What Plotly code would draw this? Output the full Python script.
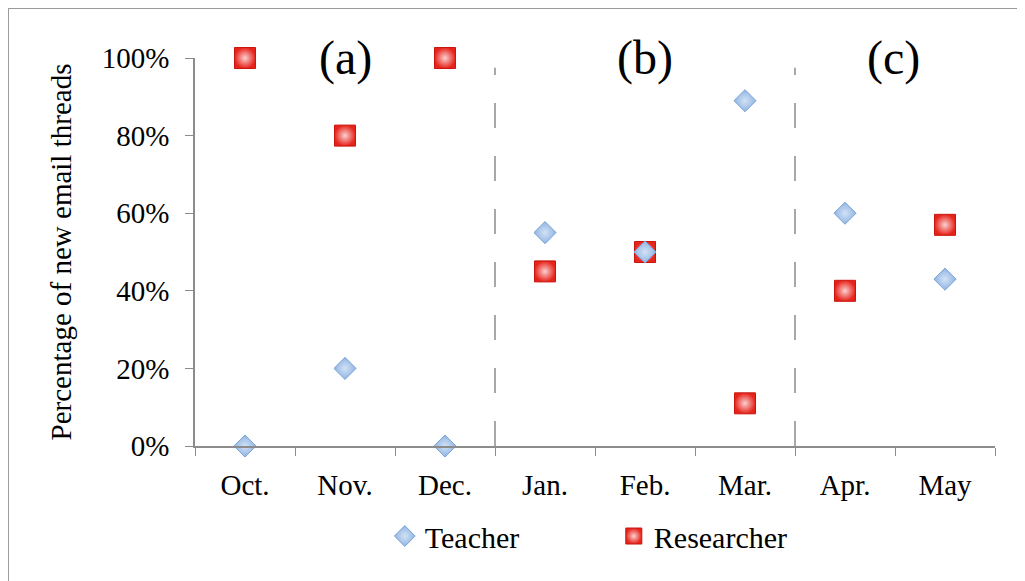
import plotly.graph_objects as go

months = ["Oct.", "Nov.", "Dec.", "Jan.", "Feb.", "Mar.", "Apr.", "May"]
teacher = [0.00, 0.20, 0.00, 0.55, 0.50, 0.89, 0.60, 0.43]
researcher = [1.00, 0.80, 1.00, 0.45, 0.50, 0.11, 0.40, 0.57]
period_labels = ["(a)", "(b)", "(c)"]
period_pos = [1, 4, 6.48]
dividers = [2.5, 5.5]

FONT = "Liberation Serif"

fig = go.Figure()
fig.add_trace(go.Scatter(
    x=months, y=researcher, mode="markers", name="Researcher", cliponaxis=False,
    legendrank=2,
    marker=dict(symbol="square", size=21, color="#e6231b",
                gradient=dict(type="radial", color="#fbd0d0"),
                line=dict(color="#c8160f", width=1)),
))
fig.add_trace(go.Scatter(
    x=months, y=teacher, mode="markers", name="Teacher", cliponaxis=False,
    legendrank=1,
    marker=dict(symbol="diamond", size=17, color="#8fb4e3",
                gradient=dict(type="radial", color="#d3e2f5"),
                line=dict(color="#7aa3d6", width=1)),
))

for d in dividers:
    fig.add_shape(type="line", xref="x", yref="y", x0=d, x1=d, y0=0, y1=0.975,
                  line=dict(color="#8c8c8c", width=1.5, dash="25px,28px"))

for lab, px in zip(period_labels, period_pos):
    fig.add_annotation(x=px, y=1.0, xref="x", yref="paper", yanchor="middle",
                       text=lab, showarrow=False,
                       font=dict(family=FONT, size=48, color="#000"))

# outer frame
fig.add_shape(type="rect", xref="paper", yref="paper",
              x0=-0.2338, x1=1.06, y0=-0.40, y1=1.129,
              line=dict(color="#9a9a9a", width=2), layer="below")

fig.update_layout(
    width=1025, height=581,
    margin=dict(l=187, r=38, t=50, b=143),
    paper_bgcolor="white", plot_bgcolor="white",
    font=dict(family=FONT, size=29, color="#000"),
    showlegend=True,
    legend=dict(orientation="h", x=0.5235, xanchor="center", y=-0.165, yanchor="top",
                font=dict(family=FONT, size=30), entrywidth=184, itemwidth=30),
    xaxis=dict(type="category", range=[-0.5, 7.5], showline=True, linecolor="#8c8c8c",
               linewidth=1.5, ticks="outside", tickson="boundaries", ticklen=8,
               tickcolor="#8c8c8c", showgrid=False, zeroline=False,
               ticklabelstandoff=12,
               tickfont=dict(family=FONT, size=29)),
    yaxis=dict(range=[0, 1], tickvals=[0, 0.2, 0.4, 0.6, 0.8, 1.0], tickformat=".0%",
               showline=True, linecolor="#8c8c8c", linewidth=1.5, ticks="outside",
               ticklen=8, tickcolor="#8c8c8c", showgrid=False, zeroline=False,
               ticklabelstandoff=10,
               tickfont=dict(family=FONT, size=29),
               title=dict(text="Percentage of new email threads", standoff=22,
                          font=dict(family=FONT, size=29))),
)

fig.write_html("out.html")
